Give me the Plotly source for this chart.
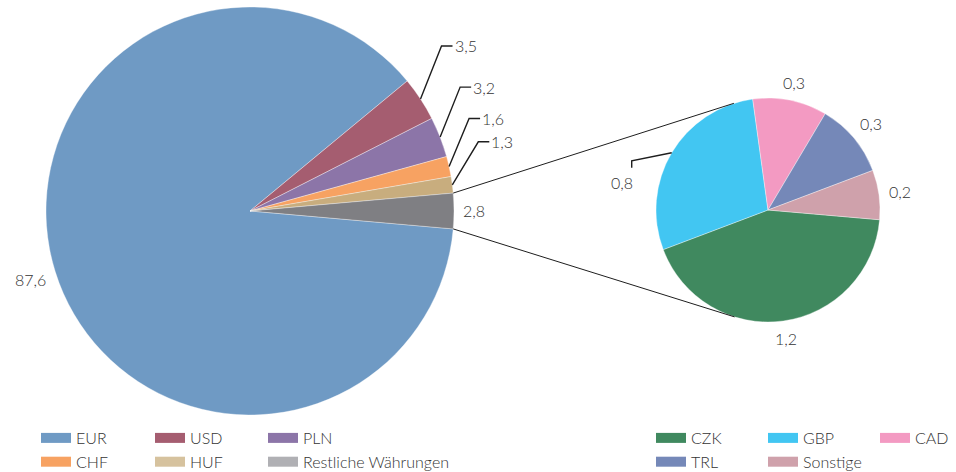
import math
import plotly.graph_objects as go

# ---------------- data ----------------
main_labels = ["EUR", "USD", "PLN", "CHF", "HUF", "Restliche Währungen"]
main_values = [87.6, 3.5, 3.2, 1.6, 1.3, 2.8]
sub_labels = ["CZK", "GBP", "CAD", "TRL", "Sonstige"]
sub_values = [1.2, 0.8, 0.3, 0.3, 0.2]

# ---------------- styles ----------------
main_colors = ["#6f9ac4", "#a55d70", "#8c75a8", "#f7a262", "#c8ad7e", "#7f7f83"]
main_legend_colors = ["#6f9ac4", "#a55d70", "#8c75a8", "#f7a262", "#d6c29e", "#b0b0b4"]
sub_colors = ["#40895f", "#42c6f2", "#f39ac2", "#7588b8", "#cfa1ab"]
# leader line offsets (px) from slice edge to elbow; None = plain radial label
main_leader = [None, (21, -53), (20, -50), (20, -48), (26, -43), None]
sub_leader = [None, (-40, 8), None, None, None]

W, H = 956, 472
FONT = "Lato"
FS = 16
WEIGHT = 300
TXT = "#333333"
LINE = "#1e1e1e"

main_c, main_R = (250, 211), 204
sub_c, sub_R = (768, 210), 112

# legend columns (text start x) and row-1 top
left_cols = [76, 190, 303]
right_cols = [691, 803, 915]
legend_top = 421


def dom(c, R):
    return dict(x=[(c[0] - R) / W, (c[0] + R) / W],
                y=[1 - (c[1] + R) / H, 1 - (c[1] - R) / H])


def slice_angles(values, rot):
    tot = sum(values)
    a = 90 - rot
    out = []
    for v in values:
        b = a - v / tot * 360
        out.append((a, b))
        a = b
    return out


def pt(c, r, ang):
    return (c[0] + r * math.cos(math.radians(ang)),
            c[1] - r * math.sin(math.radians(ang)))


def paper(p):
    return p[0] / W, 1 - p[1] / H


def fmt(v):
    return f"{v:.1f}".replace(".", ",")


main_rot = 90 + main_values[-1] / sum(main_values) * 360 / 2
sub_rot = 95

fig = go.Figure()
fig.add_trace(go.Pie(labels=main_labels, values=main_values, sort=False,
                     direction="clockwise", rotation=main_rot,
                     marker=dict(colors=main_colors,
                                 line=dict(color="rgba(255,255,255,0.5)", width=0.7)),
                     textinfo="none", hoverinfo="label+value", showlegend=False,
                     domain=dom(main_c, main_R)))
fig.add_trace(go.Pie(labels=sub_labels, values=sub_values, sort=False,
                     direction="clockwise", rotation=sub_rot,
                     marker=dict(colors=sub_colors,
                                 line=dict(color="rgba(255,255,255,0.5)", width=0.7)),
                     textinfo="none", hoverinfo="label+value", showlegend=False,
                     domain=dom(sub_c, sub_R)))

# legend entries: one vertical legend per column (rows of three entries)
legend_layouts = {}
n = 0


def add_legend_entries(labels, colors, cols):
    global n
    for i, (lab, col) in enumerate(zip(labels, colors)):
        c = i % 3
        key = f"legend{n + c + 1}" if (n + c) > 0 else "legend"
        fig.add_trace(go.Scatter(x=[None], y=[None], mode="lines", name=lab,
                                 line=dict(color=col, width=11), legend=key))
        legend_layouts[key] = dict(
            orientation="v", xanchor="left", yanchor="top",
            x=(cols[c] - 40) / W, y=1 - legend_top / H,
            bgcolor="rgba(0,0,0,0)", traceorder="normal",
            font=dict(family=FONT, size=FS, color=TXT, weight=WEIGHT))
    n += 3


add_legend_entries(main_labels, main_legend_colors, left_cols)
add_legend_entries(sub_labels, sub_colors, right_cols)

shapes = []
annotations = []


def add_path(points, width=1.3, color=LINE):
    pp = [paper(p) for p in points]
    d = "M " + " L ".join(f"{x:.5f},{y:.5f}" for x, y in pp)
    shapes.append(dict(type="path", path=d, xref="paper", yref="paper",
                       line=dict(color=color, width=width)))


def add_text(p, text, xanchor="center", yanchor="middle"):
    x, y = paper(p)
    annotations.append(dict(x=x, y=y, xref="paper", yref="paper", text=text,
                            showarrow=False, xanchor=xanchor, yanchor=yanchor,
                            font=dict(family=FONT, size=FS, color=TXT, weight=WEIGHT)))


def radial_label(c, R, ang, text):
    hw = FS * (0.58 * (len(text) - 1) + 0.26) / 2
    hh = 7
    ca, sa = math.cos(math.radians(ang)), math.sin(math.radians(ang))
    d = R + 9 + abs(ca) * hw + abs(sa) * hh
    add_text(pt(c, d, ang), text)


# main pie labels
for (a, b), v, lead in zip(slice_angles(main_values, main_rot), main_values, main_leader):
    mid = (a + b) / 2
    if lead:
        e = pt(main_c, main_R, mid)
        elbow = (e[0] + lead[0], e[1] + lead[1])
        tick = (elbow[0] + 11, elbow[1])
        add_path([e, elbow, tick], width=1.4)
        add_text(tick, fmt(v), xanchor="left")
    else:
        radial_label(main_c, main_R, mid, fmt(v))

# sub pie labels
for (a, b), v, lead in zip(slice_angles(sub_values, sub_rot), sub_values, sub_leader):
    mid = (a + b) / 2
    if lead:
        e = pt(sub_c, sub_R, mid)
        elbow = (e[0] + lead[0], e[1] + lead[1])
        tick = (elbow[0], elbow[1] + 7)
        add_path([e, elbow, tick], width=1.4)
        add_text((elbow[0] + 3, elbow[1] + 22), fmt(v), xanchor="right")
    else:
        radial_label(sub_c, sub_R, mid, fmt(v))

# connectors from the "Restliche" slice to the tangent points of the second pie
ra, rb = slice_angles(main_values, main_rot)[-1]


def tangent(p, c, r, upper):
    dx, dy = p[0] - c[0], -(p[1] - c[1])
    d = math.hypot(dx, dy)
    th = math.degrees(math.atan2(dy, dx))
    al = math.degrees(math.acos(r / d))
    return pt(c, r, th - al if upper else th + al)


p_top = pt(main_c, main_R, ra)
p_bot = pt(main_c, main_R, rb)
add_path([p_top, tangent(p_top, sub_c, sub_R, True)], width=1.0)
add_path([p_bot, tangent(p_bot, sub_c, sub_R, False)], width=1.0)

fig.update_layout(
    width=W, height=H,
    margin=dict(l=0, r=0, t=0, b=0, autoexpand=False),
    paper_bgcolor="white", plot_bgcolor="white",
    showlegend=True,
    xaxis=dict(visible=False), yaxis=dict(visible=False),
    shapes=shapes, annotations=annotations,
    font=dict(family=FONT, size=FS, color=TXT),
    **legend_layouts,
)

fig.write_html("out.html")
